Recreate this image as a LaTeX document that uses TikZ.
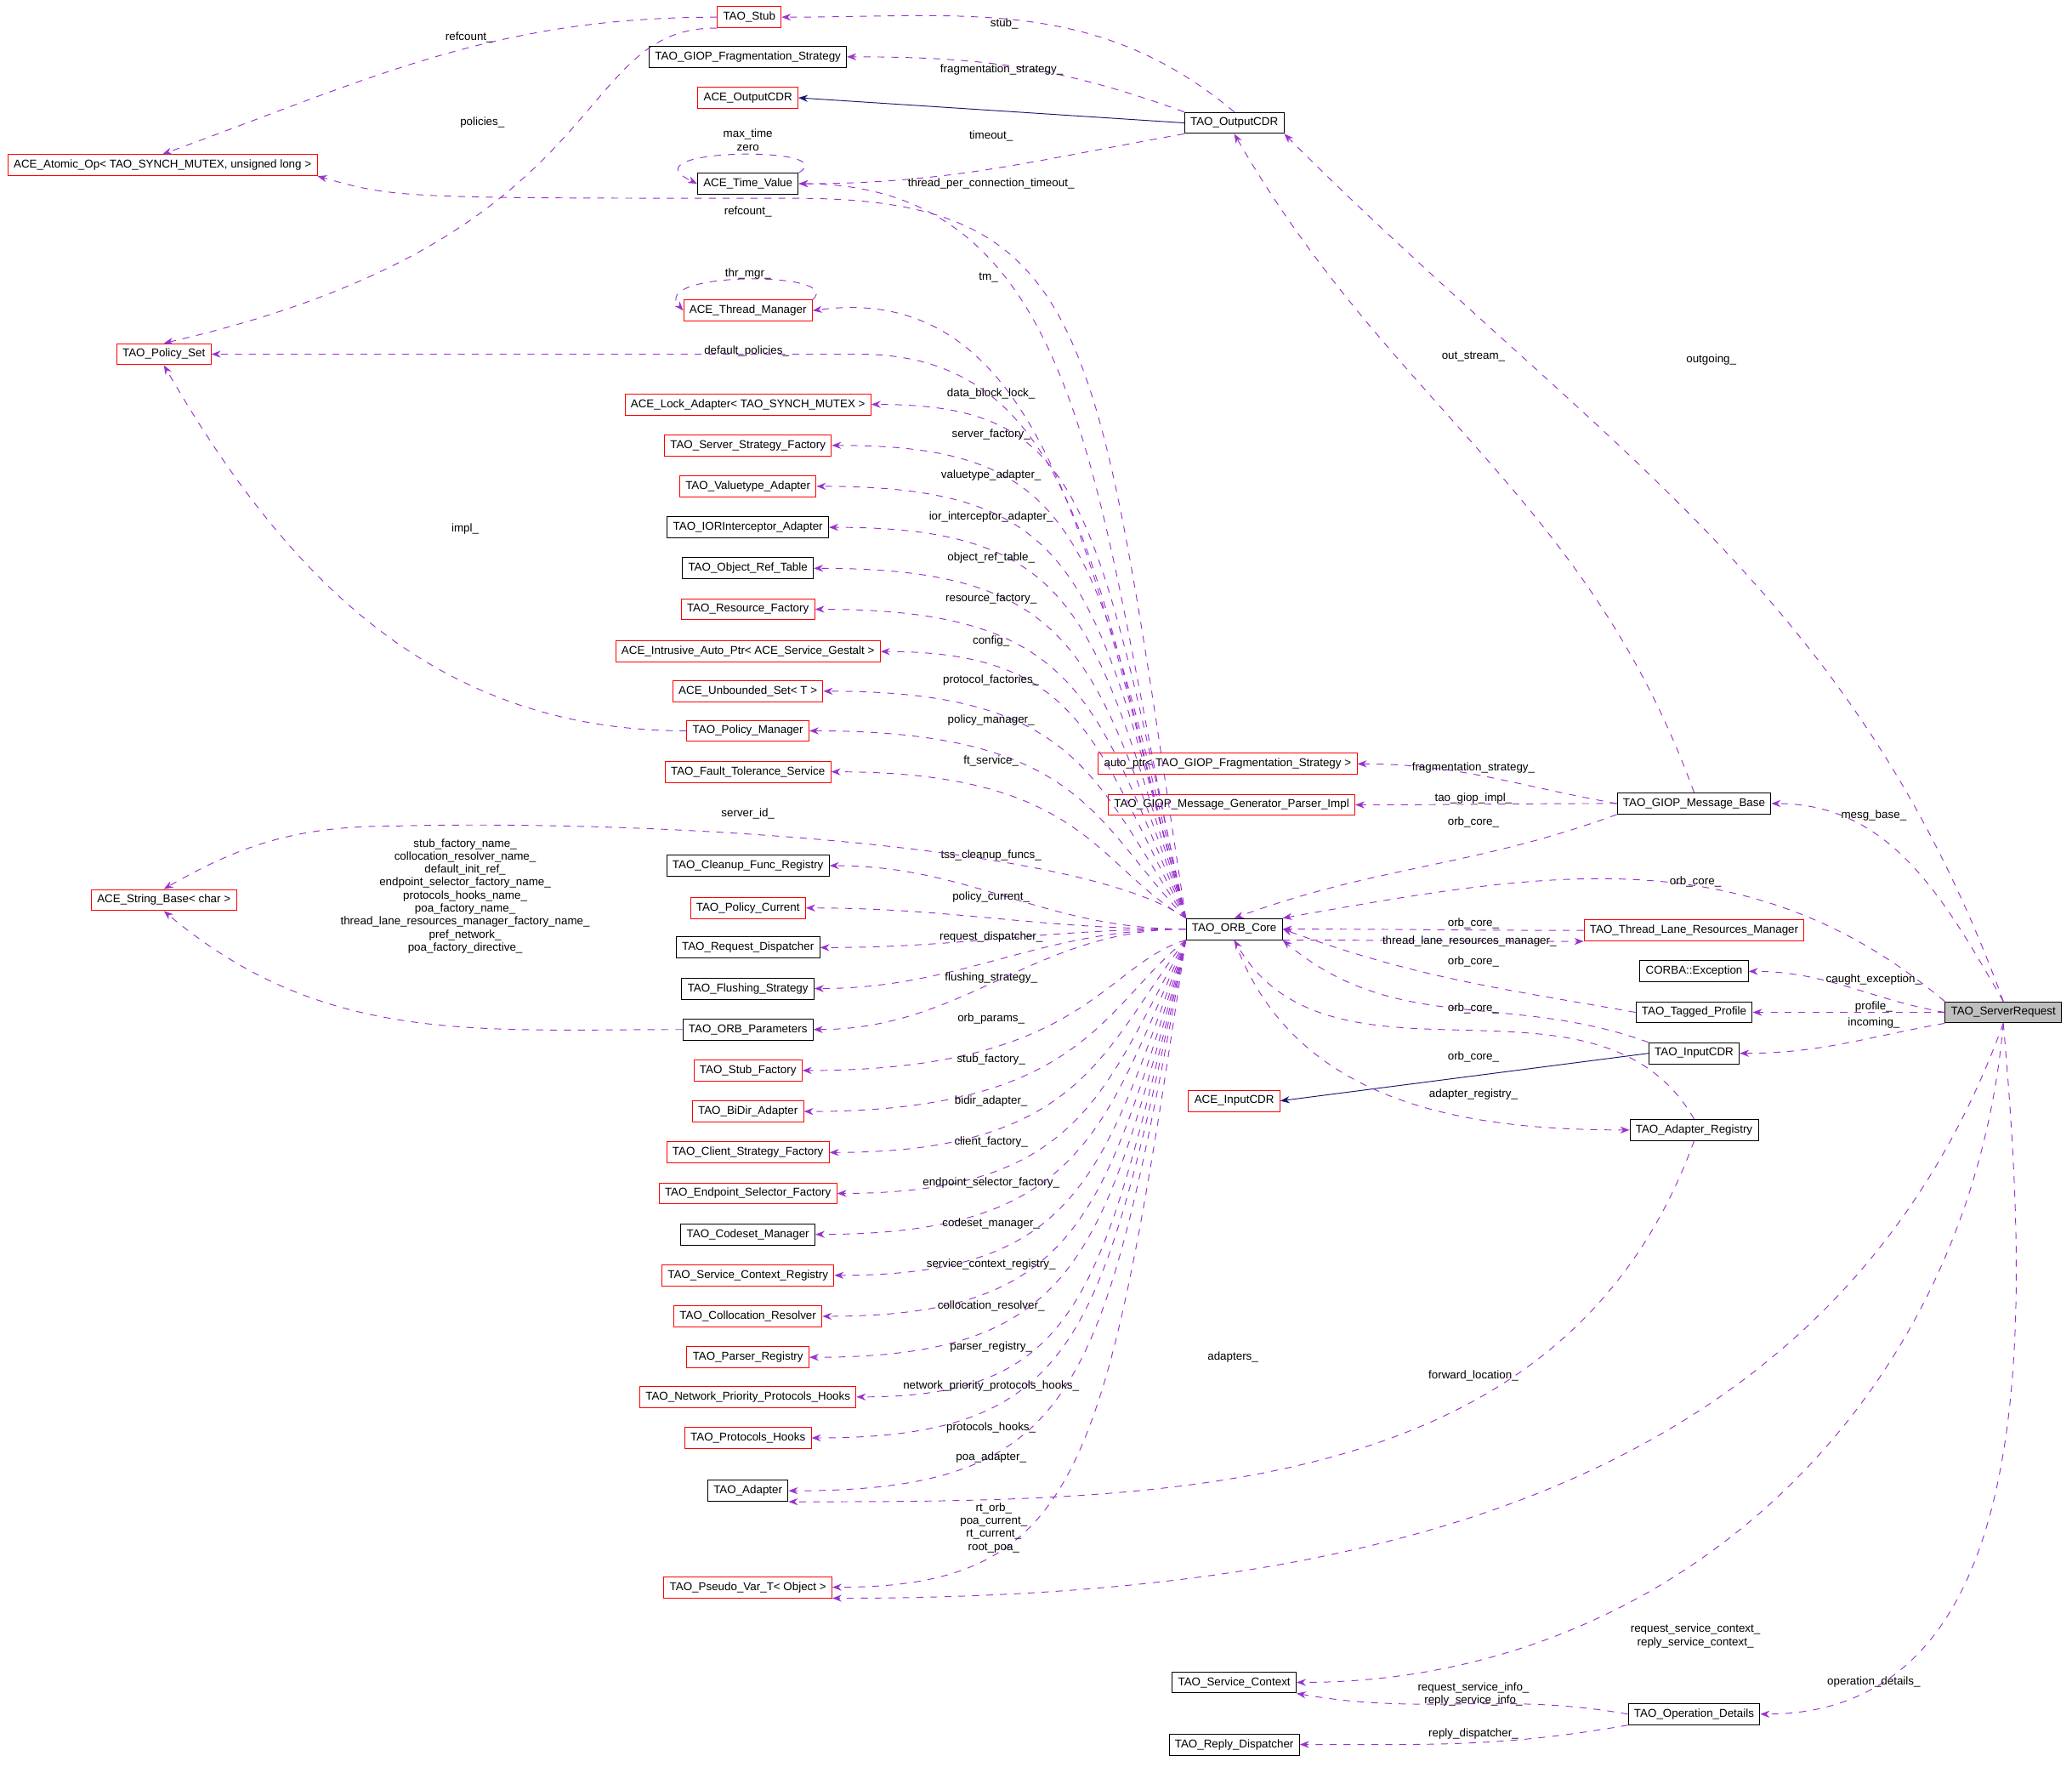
\documentclass[tikz,border=0pt]{standalone}
\usepackage{fontspec}
\setmainfont{Liberation Sans}
\usetikzlibrary{arrows.meta}
\definecolor{dep}{RGB}{154,50,205}
\definecolor{inh}{RGB}{25,25,112}
\tikzset{
  box/.style={draw, font=\fontsize{4.9}{5.6}\selectfont, inner xsep=2.5pt, inner ysep=0pt, minimum height=0.32cm, line width=0.35pt},
  boxr/.style={box, draw=red},
  boxk/.style={box, draw=black},
  use/.style={draw=dep, dashed, line width=0.35pt, -{Stealth[length=4pt,width=3pt]}},
  isa/.style={draw=inh, line width=0.35pt, -{Stealth[length=4pt,width=3pt]}},
  lbl/.style={font=\fontsize{4.9}{5.6}\selectfont, align=center, inner sep=0.5pt}
}
\begin{document}
\begin{tikzpicture}[x=0.02cm, y=-0.02cm]
  %%%%% START %%%%%
  \useasboundingbox (0,0) rectangle (1568,1337);

  \node[boxr] (stub) at (567,13) {TAO\_Stub};
  \node[boxk] (frag) at (566,43) {TAO\_GIOP\_Fragmentation\_Strategy};
  \node[boxr] (aocdr) at (566,74) {ACE\_OutputCDR};
  \node[boxk] (tocdr) at (934,93) {TAO\_OutputCDR};
  \node[boxr] (atomic) at (123,125) {ACE\_Atomic\_Op< TAO\_SYNCH\_MUTEX, unsigned long >};
  \node[boxk] (tval) at (566,139) {ACE\_Time\_Value};
  \node[boxr] (thrmgr) at (566,235) {ACE\_Thread\_Manager};
  \node[boxr] (polset) at (124,268) {TAO\_Policy\_Set};
  \node[boxr] (strb) at (124,681) {ACE\_String\_Base< char >};
  \node[boxk] (core) at (934,703) {TAO\_ORB\_Core};
  \node[boxk] (adapter) at (566,1128) {TAO\_Adapter};
  \node[boxr] (pseudo) at (566,1201) {TAO\_Pseudo\_Var\_T< Object >};
  \node[boxr] (autop) at (929,578) {auto\_ptr< TAO\_GIOP\_Fragmentation\_Strategy >};
  \node[boxr] (genp) at (932,609) {TAO\_GIOP\_Message\_Generator\_Parser\_Impl};
  \node[boxk] (mbase) at (1282,608) {TAO\_GIOP\_Message\_Base};
  \node[boxr] (tlrm) at (1282,704) {TAO\_Thread\_Lane\_Resources\_Manager};
  \node[boxk] (exc) at (1282,735) {CORBA::Exception};
  \node[boxk] (tprof) at (1282,766) {TAO\_Tagged\_Profile};
  \node[boxk] (ticdr) at (1282,797) {TAO\_InputCDR};
  \node[boxr] (aicdr) at (934,833) {ACE\_InputCDR};
  \node[boxk] (areg) at (1282,855) {TAO\_Adapter\_Registry};
  \node[boxk, fill=black!25] (sreq) at (1516,766) {TAO\_ServerRequest};
  \node[boxk] (sctx) at (934,1273) {TAO\_Service\_Context};
  \node[boxk] (opdet) at (1282,1297) {TAO\_Operation\_Details};
  \node[boxk] (rdisp) at (934,1320) {TAO\_Reply\_Dispatcher};

  % members of the ORB core, above it
  \foreach \nm/\yy/\st/\tx/\lb in {
    lock/306/boxr/{ACE\_Lock\_Adapter< TAO\_SYNCH\_MUTEX >}/{data\_block\_lock\_},
    ssf/337/boxr/{TAO\_Server\_Strategy\_Factory}/{server\_factory\_},
    vta/368/boxr/{TAO\_Valuetype\_Adapter}/{valuetype\_adapter\_},
    ioria/399/boxk/{TAO\_IORInterceptor\_Adapter}/{ior\_interceptor\_adapter\_},
    ort/430/boxk/{TAO\_Object\_Ref\_Table}/{object\_ref\_table\_},
    resf/461/boxr/{TAO\_Resource\_Factory}/{resource\_factory\_},
    iap/493/boxr/{ACE\_Intrusive\_Auto\_Ptr< ACE\_Service\_Gestalt >}/{config\_},
    uset/523/boxr/{ACE\_Unbounded\_Set< T >}/{protocol\_factories\_},
    polm/553/boxr/{TAO\_Policy\_Manager}/{policy\_manager\_},
    fts/584/boxr/{TAO\_Fault\_Tolerance\_Service}/{ft\_service\_}}
  {
    \node[\st] (\nm) at (566,\yy) {\tx};
    \draw[use] (core.north west) .. controls (828,\yy+70) and (820,\yy) .. (\nm.east);
    \node[lbl] at (750,\yy-8) {\lb};
  }
  \foreach \nm/\yy/\st/\tx/\lb in {
    cfr/655/boxk/{TAO\_Cleanup\_Func\_Registry}/{tss\_cleanup\_funcs\_},
    pcur/687/boxr/{TAO\_Policy\_Current}/{policy\_current\_},
    rdsp/717/boxk/{TAO\_Request\_Dispatcher}/{request\_dispatcher\_},
    flush/748/boxk/{TAO\_Flushing\_Strategy}/{flushing\_strategy\_},
    orbp/779/boxk/{TAO\_ORB\_Parameters}/{orb\_params\_}}
  {
    \node[\st] (\nm) at (566,\yy) {\tx};
    \draw[use] (core.west) to[out=180, in=0] (\nm.east);
    \node[lbl] at (750,\yy-8) {\lb};
  }
  % members of the ORB core, below it
  \foreach \nm/\yy/\st/\tx/\lb in {
    stf/810/boxr/{TAO\_Stub\_Factory}/{stub\_factory\_},
    bidir/841/boxr/{TAO\_BiDir\_Adapter}/{bidir\_adapter\_},
    csf/872/boxr/{TAO\_Client\_Strategy\_Factory}/{client\_factory\_},
    esf/903/boxr/{TAO\_Endpoint\_Selector\_Factory}/{endpoint\_selector\_factory\_},
    csm/934/boxk/{TAO\_Codeset\_Manager}/{codeset\_manager\_},
    scr/965/boxr/{TAO\_Service\_Context\_Registry}/{service\_context\_registry\_},
    colr/996/boxr/{TAO\_Collocation\_Resolver}/{collocation\_resolver\_},
    parr/1027/boxr/{TAO\_Parser\_Registry}/{parser\_registry\_},
    nph/1057/boxr/{TAO\_Network\_Priority\_Protocols\_Hooks}/{network\_priority\_protocols\_hooks\_},
    ph/1088/boxr/{TAO\_Protocols\_Hooks}/{protocols\_hooks\_}}
  {
    \node[\st] (\nm) at (566,\yy) {\tx};
    \draw[use] (core.south west) .. controls (835,\yy-80) and (820,\yy) .. (\nm.east);
    \node[lbl] at (750,\yy-8) {\lb};
  }
  \draw[use] (core.south west) .. controls (835,1050) and (820,1128) .. (adapter.east);
  \node[lbl] at (750,1103) {poa\_adapter\_};
  \draw[use] (core.south west) .. controls (838,1110) and (820,1201) .. (pseudo.east);
  \node[lbl] at (752,1156) {rt\_orb\_\\poa\_current\_\\rt\_current\_\\root\_poa\_};

  % upper part
  \draw[use] (tocdr.north) to[out=140, in=0] (stub.east);
  \node[lbl] at (760,18) {stub\_};
  \draw[use] (tocdr.north west) to[out=160, in=0] (frag.east);
  \node[lbl] at (758,53) {fragmentation\_strategy\_};
  \draw[isa] (tocdr.west) -- (aocdr.east);
  \draw[use] (tocdr.south west) to[out=190, in=0] (tval.east);
  \node[lbl] at (750,103) {timeout\_};
  \draw[use] (stub.west) to[out=180, in=20] (atomic.north);
  \node[lbl] at (355,28) {refcount\_};
  \draw[use] (stub.south west) .. controls (430,20) and (470,180) .. (polset.north);
  \node[lbl] at (365,93) {policies\_};
  \draw[use] (tval.north east) .. controls (640,110) and (470,112) .. (tval.west);
  \node[lbl] at (566,106) {max\_time\\zero};
  \draw[use] (thrmgr.north east) .. controls (640,205) and (490,205) .. (thrmgr.west);
  \node[lbl] at (566,207) {thr\_mgr\_};
  \draw[use] (core.north west) .. controls (830,250) and (830,150) .. (600,150) .. controls (300,150) .. (atomic.south east);
  \node[lbl] at (566,160) {refcount\_};
  \draw[use] (core.north west) .. controls (830,400) and (830,140) .. (tval.east);
  \node[lbl] at (750,139) {thread\_per\_connection\_timeout\_};
  \draw[use] (core.north west) .. controls (830,450) and (800,210) .. (thrmgr.east);
  \node[lbl] at (748,210) {tm\_};
  \draw[use] (core.north west) .. controls (830,450) and (820,268) .. (650,268) -- (polset.east);
  \node[lbl] at (565,266) {default\_policies\_};
  \draw[use] (polm.west) to[out=180, in=-60] (polset.south);
  \node[lbl] at (352,400) {impl\_};
  \draw[use] (orbp.west) to[out=180, in=-40] (strb.south);
  \node[lbl] at (352,678) {stub\_factory\_name\_\\collocation\_resolver\_name\_\\default\_init\_ref\_\\endpoint\_selector\_factory\_name\_\\protocols\_hooks\_name\_\\poa\_factory\_name\_\\thread\_lane\_resources\_manager\_factory\_name\_\\pref\_network\_\\poa\_factory\_directive\_};
  \draw[use] (core.north west) .. controls (820,640) and (500,620) .. (300,625) to[out=180, in=30] (strb.north);
  \node[lbl] at (566,616) {server\_id\_};

  % right part
  \draw[use] (mbase.west) to[out=170, in=0] (autop.east);
  \node[lbl] at (1115,581) {fragmentation\_strategy\_};
  \draw[use] (mbase.west) to[out=180, in=0] (genp.east);
  \node[lbl] at (1115,604) {tao\_giop\_impl\_};
  \draw[use] (mbase.south west) to[out=200, in=20] (core.north);
  \node[lbl] at (1115,622) {orb\_core\_};
  \draw[use] (mbase.north) to[out=110, in=-60] (tocdr.south);
  \node[lbl] at (1115,270) {out\_stream\_};
  \draw[use] (sreq.north) to[out=110, in=-45] (tocdr.south east);
  \node[lbl] at (1295,272) {outgoing\_};
  \draw[use] (sreq.north) to[out=120, in=0] (mbase.east);
  \node[lbl] at (1418,617) {mesg\_base\_};
  \draw[use] (sreq.north west) to[out=140, in=10] (core.north east);
  \node[lbl] at (1283,667) {orb\_core\_};
  \draw[use] (tlrm.west) to[out=180, in=0] (core.east);
  \node[lbl] at (1115,699) {orb\_core\_};
  \draw[use] (core.south east) to[out=0, in=180] (tlrm.south west);
  \node[lbl] at (1112,712) {thread\_lane\_resources\_manager\_};
  \draw[use] (sreq.west) to[out=170, in=0] (exc.east);
  \node[lbl] at (1418,741) {caught\_exception\_};
  \draw[use] (sreq.west) -- (tprof.east);
  \node[lbl] at (1418,762) {profile\_};
  \draw[use] (sreq.south west) to[out=190, in=0] (ticdr.east);
  \node[lbl] at (1418,774) {incoming\_};
  \draw[use] (tprof.west) to[out=170, in=-20] (core.east);
  \node[lbl] at (1115,728) {orb\_core\_};
  \draw[use] (ticdr.north west) to[out=160, in=-40] (core.south east);
  \node[lbl] at (1115,763) {orb\_core\_};
  \draw[isa] (ticdr.west) -- (aicdr.east);
  \draw[use] (areg.north) to[out=120, in=-60] (core.south);
  \node[lbl] at (1115,800) {orb\_core\_};
  \draw[use] (core.south) to[out=-70, in=180] (areg.west);
  \node[lbl] at (1115,828) {adapter\_registry\_};
  \draw[use] (areg.south) to[out=250, in=0] (adapter.south east);
  \node[lbl] at (933,1027) {adapters\_};
  \draw[use] (sreq.south) to[out=250, in=0] (pseudo.south east);
  \node[lbl] at (1115,1041) {forward\_location\_};
  \draw[use] (sreq.south) to[out=265, in=0] (sctx.east);
  \node[lbl] at (1283,1238) {request\_service\_context\_\\reply\_service\_context\_};
  \draw[use] (sreq.south) to[out=275, in=0] (opdet.east);
  \node[lbl] at (1418,1273) {operation\_details\_};
  \draw[use] (opdet.west) to[out=170, in=-10] (sctx.south east);
  \node[lbl] at (1115,1282) {request\_service\_info\_\\reply\_service\_info\_};
  \draw[use] (opdet.south west) to[out=190, in=0] (rdisp.east);
  \node[lbl] at (1115,1312) {reply\_dispatcher\_};
  %%%%% END %%%%%
\end{tikzpicture}
\end{document}
